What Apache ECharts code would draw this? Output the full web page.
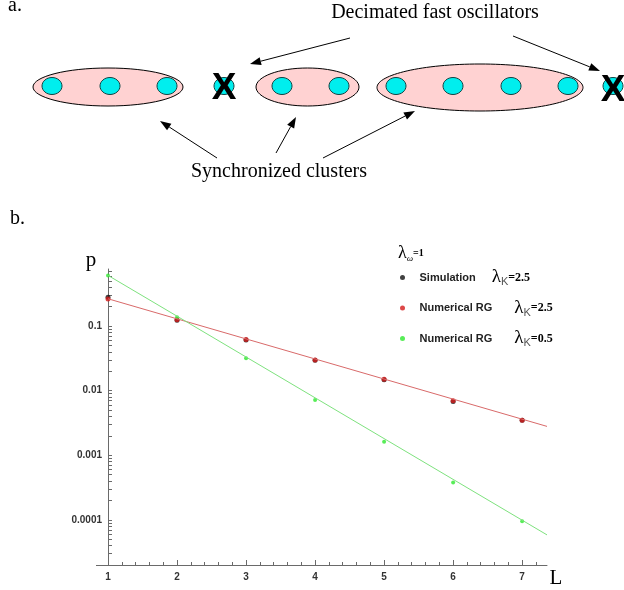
<!DOCTYPE html>
<html>
<head>
<meta charset="utf-8">
<script src="https://cdn.jsdelivr.net/npm/echarts@6/dist/echarts.min.js"></script>
<style>
  html, body { margin: 0; padding: 0; background: #fff; }
  #main { width: 624px; height: 590px; }
</style>
</head>
<body>
<div id="main"></div>
<script>
// cluster size L
var L = [1, 2, 3, 4, 5, 6, 7];
// probabilities p(L)
var simK25 = [0.28, 0.123, 0.061, 0.0295, 0.0148, 0.0068, 0.0035];
var rgK25 = [0.262, 0.125, 0.062, 0.030, 0.0151, 0.0070, 0.0035];
var rgK05 = [0.61, 0.137, 0.0317, 0.0072, 0.00162, 0.00038, 0.000095];
// straight fits drawn through the points
var fitL = [1, 7.36];
var fitK25 = [0.265, 0.0028];
var fitK05 = [0.61, 0.0000585];
var xTicks = [1, 2, 3, 4, 5, 6, 7];
var yLabels = [0.0001, 0.001, 0.01, 0.1];
var yMin = 0.00002, yMax = 0.766;
var seriesNames = ['Simulation λK=2.5', 'Numerical RG λK=2.5', 'Numerical RG λK=0.5'];

var serif = '"Liberation Serif", "DejaVu Serif", serif';
var sans = '"Liberation Sans", Arial, sans-serif';
var axisGray = '#6a6a6a';

function pairs(xs, ys) {
	return xs.map(function (x, i) { return [x, ys[i]]; });
}

// tick positions 1..9 x 10^k, as log10 values for the helper axis
var yTickLogs = [];
for (var e = -5; e <= 0; e++) {
	for (var m = 1; m <= 9; m++) {
		var lv = Math.log10(m) + e;
		if (lv >= Math.log10(yMin) && lv <= Math.log10(yMax)) yTickLogs.push(lv);
	}
}

// little arrow: a line and a filled head
function arrow(x1, y1, x2, y2) {
	var a = Math.atan2(y2 - y1, x2 - x1);
	var h = 11, w = 4;
	var bx = x2 - h * Math.cos(a), by = y2 - h * Math.sin(a);
	return [
		{ type: 'line', shape: { x1: x1, y1: y1, x2: bx, y2: by }, style: { stroke: '#000', lineWidth: 1 } },
		{
			type: 'polygon',
			shape: { points: [[x2, y2], [bx + w * Math.sin(a), by - w * Math.cos(a)], [bx - w * Math.sin(a), by + w * Math.cos(a)]] },
			style: { fill: '#000' }
		}
	];
}

function cluster(cx, cy, rx, ry) {
	return { type: 'ellipse', shape: { cx: cx, cy: cy, rx: rx, ry: ry }, style: { fill: '#ffd2d2', stroke: '#000', lineWidth: 1 } };
}
function osc(cx) {
	return { type: 'ellipse', shape: { cx: cx, cy: 86, rx: 10, ry: 8.5 }, style: { fill: '#00eeee', stroke: '#114444', lineWidth: 1 } };
}
function cross(x, y) {
	return { type: 'text', x: x, y: y, style: { text: 'X', font: 'bold 37px ' + sans, fill: '#000', align: 'center', verticalAlign: 'middle' } };
}

var diagram = [
	{ type: 'text', x: 8, y: 6, style: { text: 'a.', font: '20px ' + serif, fill: '#000', verticalAlign: 'middle' } },
	{ type: 'text', x: 435, y: 13, style: { text: 'Decimated fast oscillators', font: '20px ' + serif, fill: '#000', align: 'center', verticalAlign: 'middle' } },
	{ type: 'text', x: 279, y: 172, style: { text: 'Synchronized clusters', font: '20px ' + serif, fill: '#000', align: 'center', verticalAlign: 'middle' } },
	cluster(108, 87, 75, 19),
	cluster(307.5, 87, 51.5, 19),
	cluster(480, 87.5, 103, 23.5),
	osc(52), osc(110), osc(167),
	osc(224),
	osc(282), osc(339),
	osc(396), osc(453), osc(511), osc(568),
	osc(613),
	cross(224, 89), cross(613, 91),
	{ type: 'text', x: 10, y: 219, style: { text: 'b.', font: '20px ' + serif, fill: '#000', verticalAlign: 'middle' } },
	{ type: 'text', x: 91, y: 260, style: { text: 'p', font: '21px ' + serif, fill: '#000', align: 'center', verticalAlign: 'middle' } },
	{ type: 'text', x: 556, y: 578, style: { text: 'L', font: '21px ' + serif, fill: '#000', align: 'center', verticalAlign: 'middle' } },
	{
		type: 'text', x: 398, y: 253,
		style: {
			text: '{l|λ}{w|ω}{v|=1}', verticalAlign: 'middle',
			rich: {
				l: { font: '18px ' + serif, fill: '#000', lineHeight: 20 },
				w: { font: 'italic 9px ' + serif, fill: '#000', lineHeight: 8, verticalAlign: 'bottom' },
				v: { font: 'bold 10px ' + serif, fill: '#000', lineHeight: 20 }
			}
		}
	},
	// stub of the L axis left of the p axis
	{ type: 'line', shape: { x1: 96, y1: 565.5, x2: 108, y2: 565.5 }, style: { stroke: axisGray, lineWidth: 1 } }
]
	.concat(arrow(350, 38, 250, 64))
	.concat(arrow(513, 36, 600, 71))
	.concat(arrow(217, 158, 160, 121))
	.concat(arrow(276, 153, 296, 117))
	.concat(arrow(323, 158, 415, 111));

var chart = echarts.init(document.getElementById('main'));

var option = {
	animation: false,
	backgroundColor: '#fff',
	grid: { left: 108, right: 77, top: 269, bottom: 25 },
	legend: {
		orient: 'vertical',
		left: 395,
		top: 263,
		itemGap: 11,
		itemWidth: 24,
		itemHeight: 5,
		icon: 'circle',
		data: seriesNames,
		selectedMode: false,
		formatter: function (name) {
			var parts = name.split(' λK');
			var gap = parts[0] === 'Simulation' ? 'g1' : 'g2';
			return '{t|' + parts[0] + '}{' + gap + '|}{l|λ}{k|K}{v|' + parts[1] + '}';
		},
		textStyle: {
			rich: {
				t: { fontFamily: sans, fontSize: 11, fontWeight: 'bold', color: '#222', lineHeight: 20 },
				g1: { width: 16 },
				g2: { width: 22 },
				l: { fontFamily: serif, fontSize: 19, color: '#000', lineHeight: 20 },
				k: { fontFamily: sans, fontSize: 11, color: '#555', lineHeight: 10, verticalAlign: 'bottom' },
				v: { fontFamily: serif, fontSize: 12, fontWeight: 'bold', color: '#000', lineHeight: 20 }
			}
		}
	},
	xAxis: {
		type: 'value',
		min: 1,
		max: 7.36,
		interval: 1,
		splitLine: { show: false },
		axisLine: { lineStyle: { color: axisGray } },
		axisTick: { inside: true, length: 5, customValues: xTicks, lineStyle: { color: axisGray } },
		minorTick: { show: true, splitNumber: 5, length: 3, lineStyle: { color: axisGray } },
		axisLabel: { customValues: xTicks, margin: 7, fontFamily: sans, fontSize: 10, fontWeight: 'bold', color: '#333' }
	},
	yAxis: [
		{
			type: 'log',
			logBase: 10,
			min: yMin,
			max: yMax,
			splitLine: { show: false },
			axisLine: { show: true, lineStyle: { color: axisGray } },
			axisTick: { show: false },
			axisLabel: {
				customValues: yLabels,
				margin: 6,
				fontFamily: sans, fontSize: 10, fontWeight: 'bold', color: '#333',
				formatter: function (v) { return String(+Number(v).toPrecision(1)); }
			}
		},
		{
			// helper axis in log10 units, only for the 1..9 tick marks
			type: 'value',
			position: 'left',
			min: Math.log10(yMin),
			max: Math.log10(yMax),
			splitLine: { show: false },
			axisLine: { show: false },
			axisLabel: { show: false },
			axisTick: { show: true, inside: true, length: 4, customValues: yTickLogs, lineStyle: { color: axisGray } }
		}
	],
	series: [
		{
			type: 'line', data: pairs(fitL, fitK25), symbol: 'none', silent: true,
			lineStyle: { color: '#d96a6a', width: 1 }
		},
		{
			type: 'line', data: pairs(fitL, fitK05), symbol: 'none', silent: true,
			lineStyle: { color: '#7ee27e', width: 1 }
		},
		{
			name: seriesNames[0], type: 'scatter', data: pairs(L, simK25),
			symbolSize: 5, itemStyle: { color: '#111' }
		},
		{
			name: seriesNames[1], type: 'scatter', data: pairs(L, rgK25),
			symbolSize: 5, itemStyle: { color: '#d41a1a' }
		},
		{
			name: seriesNames[2], type: 'scatter', data: pairs(L, rgK05),
			symbolSize: 4, itemStyle: { color: '#2ee82e' }
		}
	],
	graphic: diagram
};

chart.setOption(option);
</script>
</body>
</html>
